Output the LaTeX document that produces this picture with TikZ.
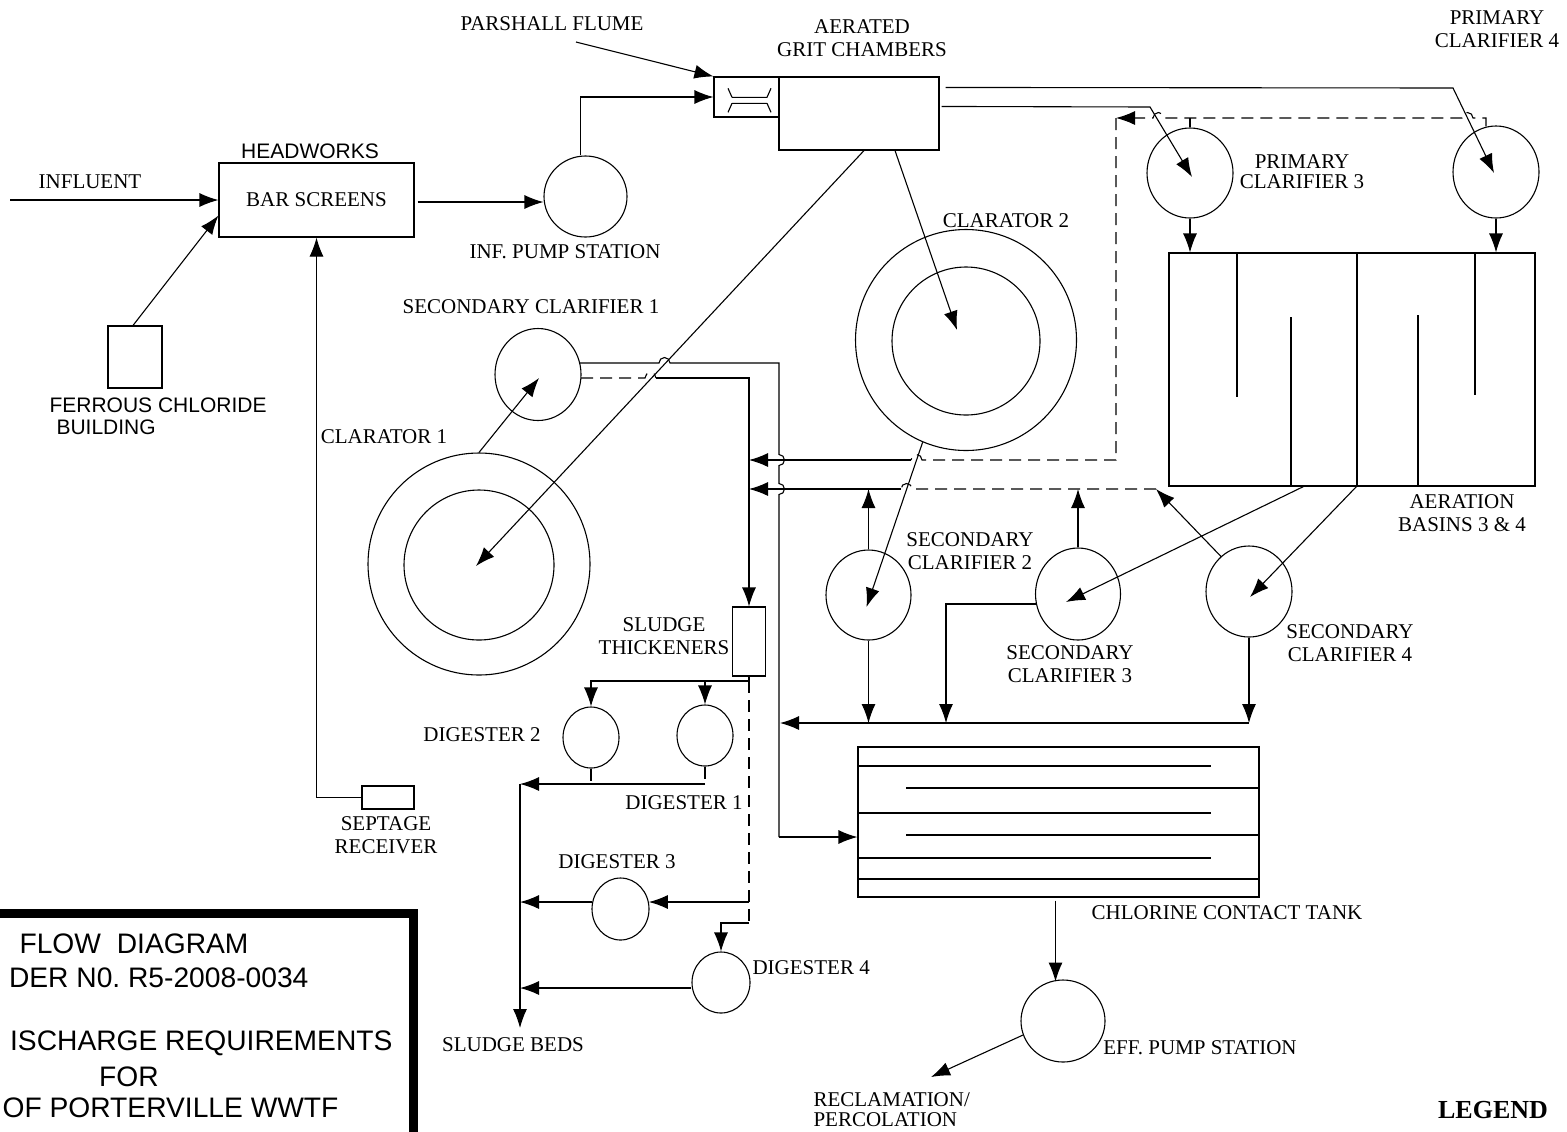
\documentclass[tikz,border=0pt]{standalone}
\usepackage{fontspec}
\setmainfont{Liberation Serif}
\setsansfont{Liberation Sans}
\usetikzlibrary{arrows.meta,shapes.geometric,calc}
\newcommand\fsr{\fontsize{10.5}{11.5}\selectfont}
\newcommand\fsa{\sffamily\fontsize{10.5}{11}\selectfont}
\newcommand\fti{\sffamily\fontsize{14.1}{17}\selectfont}
\begin{document}
\begin{tikzpicture}[x=0.5pt,y=-0.5pt,
  line width=0.55pt,
  arr/.style={-{Latex[length=9.5pt,width=7pt]}},
  dsh/.style={dash pattern=on 6pt off 3.5pt},
  lbl/.style={font=\fsr, inner sep=0pt, align=center},
  slbl/.style={font=\fsa, inner sep=0pt, align=center},
  tlbl/.style={font=\fti, inner sep=0pt},
  box/.style={draw, rectangle, inner sep=0pt},
  vessel/.style={draw, ellipse, inner sep=0pt},
  ring/.style={draw, circle, inner sep=0pt},
  sz/.style 2 args={minimum width=#1*0.5pt, minimum height=#2*0.5pt},
]
\useasboundingbox (0,0) rectangle (1567,1131);

% ---------- headworks ----------
\node[box, sz={195}{74}, font=\fsr] (bar) at (316.5,200) {BAR SCREENS};
\node[slbl] (headlbl) at (310,151) {HEADWORKS};
\node[lbl] (infllbl) at (90,182) {INFLUENT};
\coordinate (infl) at (10,200);
\draw[arr] (infl) -- (bar.west);

\node[box, sz={54}{62}] (fecl) at (135,357) {};
\node[slbl, align=left, anchor=west] (fecllbl) at (49,416) {FERROUS CHLORIDE\\\hspace*{3.5pt}BUILDING};
\draw[arr] ($(fecl.north)+(-2,0)$) -- ($(bar.south west)+(0,-22)$);

\node[vessel, sz={83}{81}] (infpump) at (585.5,196.5) {};
\node[lbl] (infpumplbl) at (565,252) {INF. PUMP STATION};
\draw[arr] ($(bar.east)+(3,2)$) -- ($(infpump.west)+(0,5.5)$);

% ---------- flume and grit ----------
\node[box, sz={65}{40}] (flume) at (746.5,97) {};
\node[box, sz={160}{73}] (grit) at (859,113.5) {};
\draw (732,97.3) -- (767,97.3) (728,88.3) -- (732,97.3) (771,88.3) -- (767,97.3);
\draw (732,103.3) -- (767,103.3) (728,112.3) -- (732,103.3) (771,112.3) -- (767,103.3);
\node[lbl] (pflbl) at (552,24) {PARSHALL FLUME};
\coordinate (pfptr) at (576,42);
\draw[arr] (pfptr) -- (flume.north west);
\draw[arr] ($(infpump.north)+(-5,0)$) |- (flume.west);
\node[lbl] (gritlbl) at (862,38.5) {AERATED\\GRIT CHAMBERS};

% ---------- primary clarifiers and aeration ----------
\node[vessel, sz={86}{90}] (pc3) at (1190,173) {};
\node[vessel, sz={86}{92}] (pc4) at (1496,172) {};
\node[lbl, font=\fontsize{10.5}{10}\selectfont] (pc3lbl) at (1302,172) {PRIMARY\\CLARIFIER 3};
\node[lbl] (pc4lbl) at (1497,29.5) {PRIMARY\\CLARIFIER 4};
\coordinate (g4a) at (1453,88);
\coordinate (g3a) at (1150,107);
\draw[arr] ($(grit.north east)+(6,11)$) -- (g4a) -- ($(pc4.center)+(-2,1)$);
\draw[arr] ($(grit.north east)+(2,30)$) -- (g3a) -- ($(pc3.center)+(2,4)$);

\node[box, sz={366}{233}] (basin) at (1352,369.5) {};
\draw (1237,253) -- (1237,397);
\draw (1291,317) -- (1291,486);
\draw (1357,253) -- (1357,486);
\draw (1418,315) -- (1418,486);
\draw (1475,253) -- (1475,395);
\draw[arr] (pc3.south) -- (pc3.south |- basin.north);
\draw[arr] (pc4.south) -- (pc4.south |- basin.north);
\node[lbl] (basinlbl) at (1462,513.5) {AERATION\\BASINS 3 \& 4};

% ---------- clarators ----------
\node[ring, minimum size=221*0.5pt] (cl2) at (966,340) {};
\node[ring, minimum size=148*0.5pt] (cl2in) at (966,341) {};
\node[lbl] (cl2lbl) at (1006,221) {CLARATOR 2};
\draw[arr] ($(grit.south)+(36,0)$) -- ($(cl2.center)+(-9,-10)$);

\node[ring, minimum size=222*0.5pt] (cl1) at (479,564) {};
\node[ring, minimum size=150*0.5pt] (cl1in) at (479,565) {};
\node[lbl] (cl1lbl) at (384,437) {CLARATOR 1};
\draw[arr] ($(grit.south)+(5,0)$) -- ($(cl1.center)+(-3,2)$);

% ---------- secondary clarifier 1 ----------
\node[vessel, sz={86}{92}] (sc1) at (538,374.5) {};
\node[lbl] (sc1lbl) at (531,307) {SECONDARY CLARIFIER 1};
\draw[arr] (cl1.north) -- ($(sc1.center)+(1,3.5)$);

\draw ($(sc1.center)+(41.6,-11.5)$) -- (659,363) arc (180:360:5.5) -- (779,363)
  -- (779,454.5) arc (-90:90:5.5) -- (779,483.5) arc (-90:90:5.5) -- (779,837) coordinate (pipeA);
\draw[dsh] ($(sc1.center)+(43,3.5)$) -- (645,378) arc (180:360:5.5);

% ---------- sludge thickener ----------
\node[box, sz={33}{69}] (thick) at (749,641.5) {};
\node[lbl] (thicklbl) at (664,636.5) {SLUDGE\\THICKENERS};
\draw[arr] (656,378) -- (749,378) -- (thick.north);

% ---------- return lines ----------
\coordinate (rtop) at (1116,118);
\draw[dsh, arr] ($(pc4.north)+(-10,1)$) -- (1486,118) -- (1473,118) arc (0:-180:5.5)
  -- (1164,118) arc (0:-180:5.5) -- (rtop);
\draw[dsh] (pc3.north) -- (pc3.north |- rtop);
\draw[dsh] (rtop) -- (1116,460) -- (922,460) arc (0:-180:5.5);
\draw[arr] (911,460) -- (749,460);

\coordinate (rlow) at (1156,489);
\draw[dsh] (rlow) -- (912,489) arc (0:-180:5.5);
\draw[arr] (901,489) -- (749,489);

% ---------- secondary clarifiers 2-4 ----------
\node[vessel, sz={85}{90}] (sc2) at (868.5,595) {};
\node[vessel, sz={85}{92}] (sc3) at (1078,594) {};
\node[vessel, sz={86}{91}] (sc4) at (1249,591.5) {};
\node[lbl] (sc2lbl) at (970,551) {SECONDARY\\CLARIFIER 2};
\node[lbl] (sc3lbl) at (1070,664.5) {SECONDARY\\CLARIFIER 3};
\node[lbl] (sc4lbl) at (1350,643.5) {SECONDARY\\CLARIFIER 4};

\draw[arr] (cl2.247) -- ($(sc2.center)+(-2,12)$);
\draw[arr] ($(sc4.center)+(-28,-35)$) -- (rlow);
\draw[arr] (sc3.north) -- (sc3.north |- rlow);
\draw[arr] (sc2.north) -- (sc2.north |- rlow);
\draw[arr] ($(basin.south west)+(135,0)$) -- ($(sc3.center)+(-12,8)$);
\draw[arr] ($(basin.south west)+(188,0)$) -- ($(sc4.center)+(1,5.5)$);

\coordinate (colR) at (1249,723);
\coordinate (colL) at (780,723);
\draw[arr] (sc4.south) -- (colR);
\draw[arr] (colR) -- (colL);
\draw[arr] (sc2.south) -- (sc2.south |- colR);
\draw[arr] ($(sc3.center)+(-41.5,10)$) -| ($(colL)+(166,0)$);

% ---------- chlorine contact tank ----------
\node[box, sz={401}{150}] (cct) at (1058.5,822) {};
\draw (858,766) -- (1211,766);
\draw (906,788) -- (1259,788);
\draw (858,813) -- (1211,813);
\draw (906,835) -- (1259,835);
\draw (858,858) -- (1211,858);
\draw (858,879) -- (1259,879);
\node[lbl] (cctlbl) at (1227,913) {CHLORINE CONTACT TANK};
\draw[arr] (pipeA) -- (pipeA -| cct.west);

\node[vessel, sz={84}{82}] (eff) at (1063,1021) {};
\node[lbl] (efflbl) at (1200,1048) {EFF. PUMP STATION};
\draw[arr] ($(cct.south)+(-3,3)$) -- ++(0,81);
\coordinate (recl) at (931,1077);
\draw[arr] ($(eff.center)+(-40,14)$) -- (recl);
\node[lbl, align=left, anchor=west, font=\fontsize{10.5}{10}\selectfont] (recllbl) at (813,1110) {RECLAMATION/\\PERCOLATION};

% ---------- digesters ----------
\node[vessel, sz={56}{61}] (dig2) at (591,737.5) {};
\node[vessel, sz={56}{61}] (dig1) at (705,735.5) {};
\node[vessel, sz={57}{62}] (dig3) at (620.5,909) {};
\node[vessel, sz={58}{61}] (dig4) at (721,982.5) {};
\node[lbl] (dig2lbl) at (482,735) {DIGESTER 2};
\node[lbl] (dig1lbl) at (684,803) {DIGESTER 1};
\node[lbl] (dig3lbl) at (617,862) {DIGESTER 3};
\node[lbl, anchor=west] (dig4lbl) at (752,968) {DIGESTER 4};
\node[lbl] (bedslbl) at (513,1045) {SLUDGE BEDS};

\coordinate (tsplit) at (749,681);
\draw (thick.south) -- (tsplit);
\draw[arr] (tsplit) -| (dig2.north);
\draw[arr] (dig1.north |- tsplit) -- (dig1.north);
\coordinate (dend) at (749,923);
\coordinate (d3tap) at (749,902);
\draw[dsh] (tsplit) -- (dend);
\draw[arr] (dend) -| (dig4.north);
\draw[arr] (d3tap) -- ($(dig3.east)+(-0.7,-7)$);

\coordinate (sbtop) at (520,784);
\coordinate (sbend) at (520,1028);
\draw[dsh] (dig2.south) -- (dig2.south |- sbtop);
\draw[dsh] (dig1.south) -- (dig1.south |- sbtop);
\draw[arr] (dig1.south |- sbtop) -- (sbtop);
\draw[arr] (sbtop) -- (sbend);
\coordinate (d3out) at ($(dig3.west)+(0.7,-7)$);
\draw[arr] (d3out) -- (sbtop |- d3out);
\coordinate (d4out) at ($(dig4.west)+(0,5.5)$);
\draw[arr] (d4out) -- (sbtop |- d4out);

% ---------- septage ----------
\node[box, sz={52}{23}] (sept) at (388,797.5) {};
\node[lbl] (septlbl) at (386,835) {SEPTAGE\\RECEIVER};
\draw[arr] (sept.west) -| (bar.south);

% ---------- title block ----------
\draw[line width=4.5pt] (-10,913) -- (413,913) -- (413,1145);
\node[tlbl] (t1) at (134,944) {FLOW\hspace{4pt} DIAGRAM};
\node[tlbl, anchor=east] (t2) at (309,978) {DER N0.\ R5-2008-0034};
\node[tlbl, anchor=east] (t3) at (393,1043) {ISCHARGE REQUIREMENTS};
\node[tlbl] (t4) at (129,1077) {FOR};
\node[tlbl, anchor=east] (t5) at (339,1108) {OF PORTERVILLE WWTF};

\node[lbl, font={\fontsize{13}{14}\selectfont\bfseries}] (legend) at (1493,1110) {LEGEND};
\end{tikzpicture}
\end{document}
